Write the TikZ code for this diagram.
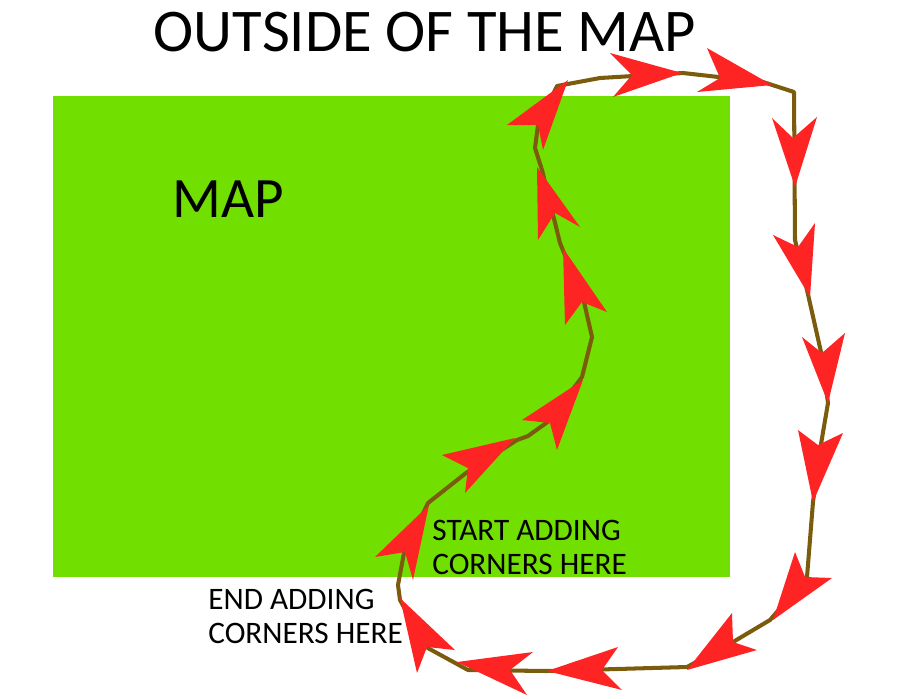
\documentclass[tikz,border=0pt]{standalone}
\usepackage{fontspec}
\setmainfont{Carlito}
\definecolor{mapgreen}{RGB}{113,224,0}
\definecolor{trailbrown}{RGB}{122,92,12}
\definecolor{arrowred}{RGB}{255,36,36}

\begin{document}
\begin{tikzpicture}[%
        x = 0.02cm,
        y = -0.02cm,
        trail/.style = {draw = trailbrown, line width = 2.3pt, line join = round},
        head/.style = {fill = arrowred},
        bigtext/.style = {inner sep = 0pt},
        note/.style = {anchor = north west, align = left, inner sep = 0pt,
            font = \fontsize{17.8}{19.3}\selectfont},
        ]

\useasboundingbox (0,0) rectangle (900,698);

% the map
\fill[mapgreen] (53,96) rectangle (730,577);

\node (title) [bigtext, font = \fontsize{34.5}{38}\selectfont] at (425,32) {OUTSIDE OF THE MAP};
\node (map) [bigtext, font = \fontsize{32.5}{36}\selectfont] at (228,199) {MAP};

\node (start) [note] at (432,520) {START ADDING\\CORNERS HERE};
\node (end) [note] at (208,589) {END ADDING\\CORNERS HERE};

% the corners, round the map
\draw[trail] (400,600) -- (398,585) -- (404,553) -- (428,503) -- (466,473)
    -- (517,440) -- (528,436) -- (549,421) -- (582,377) -- (592,337)
    -- (584,302) -- (560,243) -- (542,170) -- (535,148) -- (538,125)
    -- (557,86) -- (600,78) -- (683,73) -- (763,82) -- (794,92)
    -- (795,240) -- (807,290) -- (821,352) -- (828,403) -- (820,450)
    -- (813,502) -- (807,577) -- (770,620) -- (733,642) -- (687,667)
    -- (547,671) -- (468,670) -- (426,647) -- cycle;

% tip / barb / notch / barb
\foreach \TX/\TY/\AX/\AY/\NX/\NY/\BX/\BY in {%
        400/598/455/650/427/647/417/673,
        429/505/375/557/405/552/413/580,
        515/438/442/455/468/468/465/493,
        583/380/522/420/550/423/557/450,
        563/248/607/312/582/302/565/325,
        537/167/580/227/555/213/538/240,
        568/80/507/125/538/125/543/150,
        682/73/610/53/632/75/613/97,
        772/85/707/48/720/78/697/92,
        795/187/772/118/793/138/817/117,
        810/297/773/235/798/247/815/223,
        828/403/802/337/822/353/845/333,
        813/502/798/430/818/445/843/433,
        773/620/795/552/805/577/832/578,
        687/670/732/613/733/642/757/650,
        547/671/618/647/602/670/622/690,
        457/662/533/652/510/670/527/695}{%
    \fill[head] (\TX,\TY) -- (\AX,\AY) -- (\NX,\NY) -- (\BX,\BY) -- cycle;
    }

\end{tikzpicture}
\end{document}
